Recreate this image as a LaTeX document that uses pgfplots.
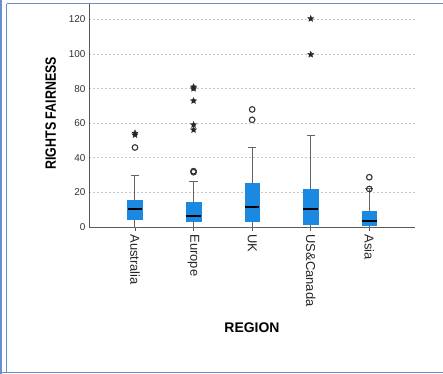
\documentclass[border=0pt]{standalone}
\usepackage{fontspec}
\setmainfont{Liberation Sans}
\usepackage{pgfplots}
\pgfplotsset{compat=1.18}
\usepgfplotslibrary{statistics}
\definecolor{boxblue}{RGB}{27,137,226}
\definecolor{frameblue}{RGB}{105,143,206}
\definecolor{whisk}{RGB}{100,100,100}
\definecolor{axgray}{RGB}{90,90,90}
\pgfdeclareplotmark{fstar}{%
  \pgfpathmoveto{\pgfqpointpolar{90}{\pgfplotmarksize}}%
  \pgfpathlineto{\pgfqpointpolar{126}{0.45\pgfplotmarksize}}%
  \pgfpathlineto{\pgfqpointpolar{162}{\pgfplotmarksize}}%
  \pgfpathlineto{\pgfqpointpolar{198}{0.45\pgfplotmarksize}}%
  \pgfpathlineto{\pgfqpointpolar{234}{\pgfplotmarksize}}%
  \pgfpathlineto{\pgfqpointpolar{270}{0.45\pgfplotmarksize}}%
  \pgfpathlineto{\pgfqpointpolar{306}{\pgfplotmarksize}}%
  \pgfpathlineto{\pgfqpointpolar{342}{0.45\pgfplotmarksize}}%
  \pgfpathlineto{\pgfqpointpolar{18}{\pgfplotmarksize}}%
  \pgfpathlineto{\pgfqpointpolar{54}{0.45\pgfplotmarksize}}%
  \pgfpathclose\pgfusepathqfillstroke}
\begin{document}
\begin{tikzpicture}
\useasboundingbox (0bp,0bp) rectangle (443bp,-374bp);
\draw[frameblue, line width=1.4bp] (1bp,0bp) -- (1bp,-374bp);
\draw[frameblue, line width=1.3bp] (6.5bp,-3.5bp) -- (6.5bp,-372.5bp);
\draw[frameblue, line width=1.3bp] (6.5bp,-3.5bp) -- (443bp,-3.5bp);
\draw[frameblue, line width=1.3bp] (1bp,-372.5bp) -- (443bp,-372.5bp);
\begin{axis}[
  at={(89bp,-227bp)}, anchor=south west,
  scale only axis, width=326bp, height=223bp,
  xmin=-0.785, xmax=4.78, ymin=0, ymax=129,
  axis x line*=bottom, axis y line*=left,
  axis line style={-, draw=axgray, line width=0.8bp},
  xtick={0,1,2,3,4},
  xticklabels={Australia,Europe,UK,US\&Canada,Asia},
  xticklabel style={rotate=-90, anchor=west, font=\fontsize{13}{15}\selectfont, text=black!85},
  xtick style={draw=axgray, line width=0.8bp},
  tick align=outside, major tick length=4bp,
  ytick={0,20,40,60,80,100,120},
  ytick style={draw=none},
  yticklabel style={font=\fontsize{10}{12}\selectfont, text=black!80, xshift=4bp},
  /pgf/number format/assume math mode=true,
  ymajorgrids,
  grid style={draw=gray!45, line width=0.8bp, dash pattern=on 2bp off 2bp},
  xlabel={\bfseries REGION},
  xlabel style={at={(axis description cs:0.5,-0.453)}, anchor=center, font=\fontsize{14}{16}\selectfont},
  ylabel={\scalebox{0.83}[1]{\bfseries RIGHTS FAIRNESS}},
  ylabel style={at={(axis description cs:-0.1175,0.51)}, anchor=center, font=\fontsize{15}{17}\selectfont},
  boxplot/draw direction=y,
  boxplot/box extend=0.25,
  boxplot/whisker extend=0.14,
  boxplot/every box/.style={fill=boxblue, draw=boxblue, line width=0.6bp},
  boxplot/every whisker/.style={draw=whisk, line width=1bp},
  boxplot/every median/.style={draw=black, line width=2bp},
  clip=false,
]
\addplot[boxplot prepared={draw position=0, lower whisker=0, lower quartile=4.6, median=10.3, upper quartile=15.2, upper whisker=30}] coordinates {};
\addplot[boxplot prepared={draw position=1, lower whisker=0, lower quartile=3.3, median=6.5, upper quartile=14.2, upper whisker=26.2}] coordinates {};
\addplot[boxplot prepared={draw position=2, lower whisker=0, lower quartile=3.5, median=11.5, upper quartile=25.1, upper whisker=46}] coordinates {};
\addplot[boxplot prepared={draw position=3, lower whisker=0, lower quartile=1.6, median=10.3, upper quartile=21.9, upper whisker=53}] coordinates {};
\addplot[boxplot prepared={draw position=4, lower whisker=0, lower quartile=0.8, median=3.6, upper quartile=8.9, upper whisker=22}] coordinates {};
% outliers (circles)
\addplot[only marks, mark=o, mark size=2.8bp, mark options={draw=black!80, line width=1.1bp}] coordinates {
(0,46) (1,31.7) (1,32.3) (2,62) (2,68) (4,22) (4,28.8)};
% extreme outliers (stars)
\addplot[only marks, mark=fstar, mark size=3.3bp, mark options={draw=black!85, fill=black!85, line width=0.3bp}] coordinates {
(0,53.3) (0,54.3) (1,56.2) (1,59.1) (1,73) (1,80) (1,81) (3,99.8) (3,120.5)};
\end{axis}
\end{tikzpicture}
\end{document}
